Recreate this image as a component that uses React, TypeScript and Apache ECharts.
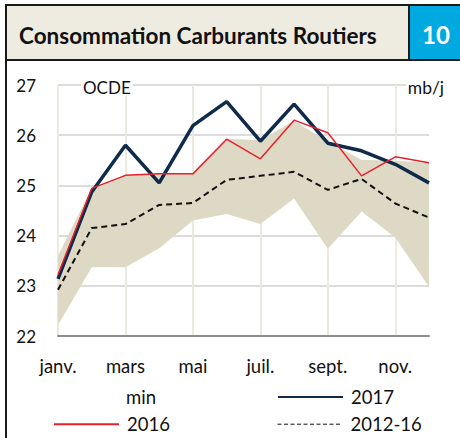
import React, { useEffect, useRef } from 'react';
import * as echarts from 'echarts';

const months = ['janv.', 'févr.', 'mars', 'avr.', 'mai', 'juin', 'juil.', 'août', 'sept.', 'oct.', 'nov.', 'déc.'];
const y2017 = [23.14, 24.87, 25.8, 25.05, 26.19, 26.67, 25.88, 26.62, 25.84, 25.69, 25.42, 25.05];
const y2016 = [23.22, 24.94, 25.2, 25.23, 25.23, 25.92, 25.53, 26.3, 26.05, 25.19, 25.57, 25.45];
const avg1216 = [22.92, 24.15, 24.23, 24.61, 24.65, 25.11, 25.19, 25.27, 24.91, 25.13, 24.64, 24.36];
const bandMin = [22.22, 23.37, 23.37, 23.75, 24.3, 24.43, 24.23, 24.74, 23.74, 24.48, 23.96, 22.98];
const bandMax = [23.6, 24.95, 25.2, 25.23, 25.24, 25.93, 25.9, 26.29, 25.87, 25.51, 25.49, 25.45];
const yMin = 22;
const yMax = 27;
const yStep = 1;

const FONT = 'Lato';

export default function App() {
  const ref = useRef<HTMLDivElement>(null);
  useEffect(() => {
    if (!ref.current) return;
    const chart = echarts.init(ref.current, undefined, { renderer: 'svg' });
    const bandHeight = bandMax.map((v, i) => +(v - bandMin[i]).toFixed(3));
    const legendBase = {
      orient: 'horizontal' as const,
      left: 53,
      itemWidth: 65,
      itemHeight: 14,
      padding: 0,
      selectedMode: false,
      itemStyle: { opacity: 0 },
      textStyle: { fontFamily: FONT, fontSize: 18.5, color: '#111', padding: [0, 0, 0, 3] },
    };
    chart.setOption({
      animation: false,
      backgroundColor: '#ffffff',
      grid: { left: 58, top: 85, width: 371, height: 251, containLabel: false },
      xAxis: {
        type: 'category',
        data: months,
        boundaryGap: false,
        axisLine: { show: true, lineStyle: { color: '#8c8c8c', width: 2 } },
        axisTick: { show: false },
        axisLabel: { interval: 1, margin: 20, fontFamily: FONT, fontSize: 18.5, color: '#111' },
        splitLine: { show: true, interval: 1, lineStyle: { color: '#ECEAE0', width: 2 } },
      },
      yAxis: {
        type: 'value',
        min: yMin,
        max: yMax,
        interval: yStep,
        axisLine: { show: false },
        axisTick: { show: false },
        axisLabel: { margin: 22, fontFamily: FONT, fontSize: 17, color: '#111' },
        splitLine: { show: true, lineStyle: { color: '#DCDCDC', width: 2 } },
      },
      legend: [
        { ...legendBase, top: 387.5, data: [{ name: 'min', icon: 'rect', itemStyle: { opacity: 0 } }] },
        { ...legendBase, left: 277, top: 387.5, data: ['2017'] },
        { ...legendBase, top: 414.7, data: ['2016'] },
        { ...legendBase, left: 277, top: 414.7, data: [{ name: '2012-16', lineStyle: { width: 1, type: [4, 2.5] } }] },
      ],
      series: [
        {
          name: 'min',
          type: 'line',
          stack: 'band',
          data: bandMin,
          symbol: 'none',
          lineStyle: { width: 0, opacity: 0 },
          itemStyle: { color: '#DDD9C4' },
        },
        {
          name: 'max',
          type: 'line',
          stack: 'band',
          data: bandHeight,
          symbol: 'none',
          lineStyle: { width: 0, opacity: 0 },
          areaStyle: { color: '#DDD9C4', opacity: 1 },
        },
        {
          name: '2017',
          type: 'line',
          data: y2017,
          symbol: 'none',
          itemStyle: { color: '#0F2B4B' },
          lineStyle: { color: '#0F2B4B', width: 3.5 },
        },
        {
          name: '2016',
          type: 'line',
          data: y2016,
          symbol: 'none',
          itemStyle: { color: '#E8202C' },
          lineStyle: { color: '#E8202C', width: 1.5 },
        },
        {
          name: '2012-16',
          type: 'line',
          data: avg1216,
          symbol: 'none',
          itemStyle: { color: '#111' },
          lineStyle: { color: '#111', width: 2, type: [6, 4] },
        },
      ],
      graphic: [
        { type: 'rect', z: 100, shape: { x: 6, y: 5, width: 403, height: 55 }, style: { fill: '#EEEBE1', stroke: '#1a1a1a', lineWidth: 2 } },
        { type: 'rect', z: 100, shape: { x: 410, y: 6, width: 52, height: 53 }, style: { fill: '#00A9E0' } },
        { type: 'line', z: 101, shape: { x1: 5, y1: 5, x2: 460, y2: 5 }, style: { stroke: '#1a1a1a', lineWidth: 2 } },
        { type: 'line', z: 101, shape: { x1: 5, y1: 60, x2: 460, y2: 60 }, style: { stroke: '#1a1a1a', lineWidth: 2 } },
        { type: 'line', z: 101, shape: { x1: 6, y1: 5, x2: 6, y2: 438 }, style: { stroke: '#1a1a1a', lineWidth: 2 } },
        {
          type: 'text', z: 102, x: 19, y: 35,
          style: { text: 'Consommation Carburants Routiers', fontFamily: FONT, fontWeight: 'bold', fontSize: 22.5, fill: '#111', verticalAlign: 'middle', align: 'left' },
        },
        {
          type: 'text', z: 102, x: 436, y: 34,
          style: { text: '10', fontFamily: FONT, fontWeight: 'bold', fontSize: 24, fill: '#ffffff', verticalAlign: 'middle', align: 'center' },
        },
        {
          type: 'text', z: 102, x: 81, y: 87,
          style: { text: 'OCDE', fontFamily: FONT, fontSize: 17, fill: '#111', verticalAlign: 'middle', align: 'left', backgroundColor: '#ffffff', padding: [0, 2] },
        },
        {
          type: 'text', z: 102, x: 446, y: 87,
          style: { text: 'mb/j', fontFamily: FONT, fontSize: 17.5, fill: '#111', verticalAlign: 'middle', align: 'right', backgroundColor: '#ffffff', padding: [0, 2] },
        },
      ],
    });
    return () => chart.dispose();
  }, []);
  return (
    <div
      ref={ref}
      style={{ position: 'fixed', left: 0, top: 0, width: 460, height: 438, background: '#fff' }}
    />
  );
}
